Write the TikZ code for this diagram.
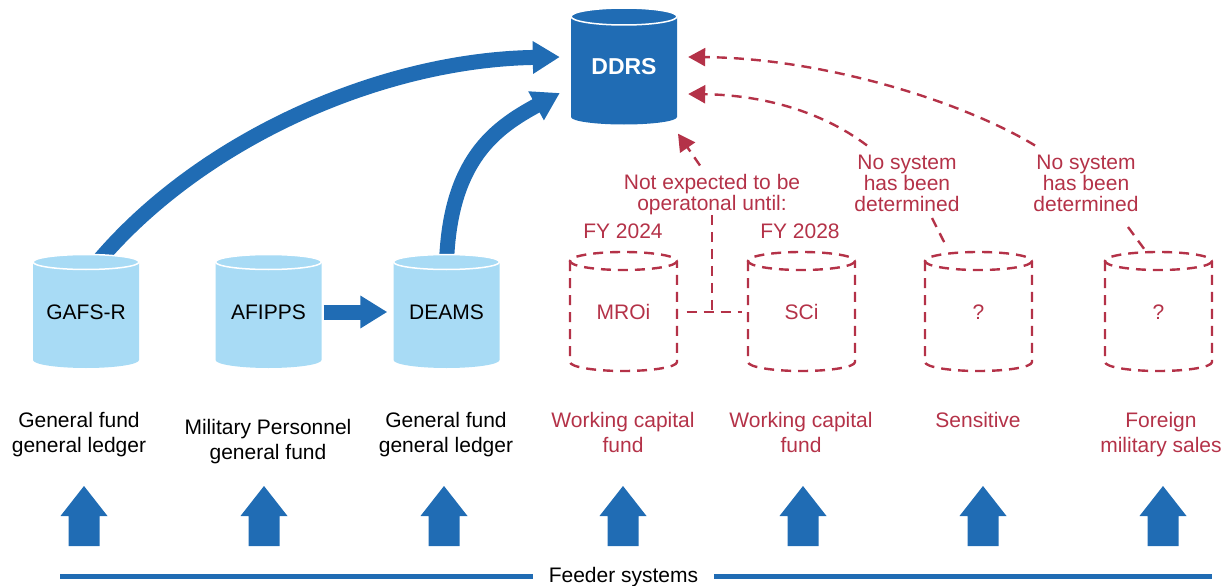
\documentclass[tikz,border=0pt]{standalone}
\usepackage{fontspec}
\setmainfont{Liberation Sans}
\usetikzlibrary{arrows.meta,calc}
\definecolor{blueD}{RGB}{32,108,180}
\definecolor{blueL}{RGB}{168,219,245}
\definecolor{redc}{RGB}{180,50,72}
\pgfdeclarelayer{arr}
\pgfdeclarelayer{cyl}
\pgfsetlayers{arr,cyl,main}
\newcommand\lightcyl[1]{%
  \fill[blueL] (#1-53,262) -- (#1-53,360) arc[start angle=180,end angle=0,x radius=53,y radius=8] -- (#1+53,262) -- cycle;
  \filldraw[fill=blueL, draw=white, line width=1.5pt] (#1,262) ellipse[x radius=53, y radius=7.5];
}
\newcommand\dashcyl[1]{%
  \draw[reddash] (#1,261) ellipse[x radius=53.5, y radius=9];
  \draw[reddash] (#1-53.5,261) -- (#1-53.5,362) arc[start angle=180,end angle=0,x radius=53.5,y radius=9] -- (#1+53.5,261);
}
\begin{document}
\begin{tikzpicture}[x=1pt,y=-1pt,
  lbl/.style={font=\fontsize{21}{25}\selectfont, align=center, inner sep=0pt},
  rlbl/.style={lbl, text=redc},
  nlbl/.style={font=\fontsize{21}{21}\selectfont, align=center, inner sep=0pt, text=redc},
  body/.style={minimum width=106pt, minimum height=98pt, inner sep=0pt, font=\fontsize{21}{25}\selectfont},
  bigarrow/.style={draw=blueD, line width=15pt, -{Triangle[length=27pt,width=31pt]}},
  reddash/.style={draw=redc, line width=2.4pt, dash pattern=on 10pt off 7pt},
  redarrow/.style={reddash, -{Triangle[length=17pt,width=18pt]}},
]
\useasboundingbox (0,0) rectangle (1227,586);

% named bodies with labels
\node[body, minimum height=101pt, text=white, font=\bfseries\fontsize{23}{23}\selectfont] (ddrs) at (624,67) {DDRS};
\node[body] (gafs) at (86,312) {GAFS-R};
\node[body] (afipps) at (268.5,312) {AFIPPS};
\node[body] (deams) at (446.5,312) {DEAMS};
\node[body, text=redc] (mroi) at (623.5,312) {MROi};
\node[body, text=redc] (sci) at (801.5,312) {SCi};
\node[body, text=redc] (q1) at (978.5,312) {?};
\node[body, text=redc] (q2) at (1158.5,312) {?};

% cylinder graphics
\begin{pgfonlayer}{cyl}
  \fill[blueD] (571,16.5) -- (571,117) arc[start angle=180,end angle=0,x radius=53,y radius=7.5] -- (677,16.5) -- cycle;
  \filldraw[fill=blueD, draw=white, line width=1.5pt] (624,16.5) ellipse[x radius=53, y radius=8.5];
  \lightcyl{86}
  \lightcyl{268.5}
  \lightcyl{446.5}
  \dashcyl{623.5}
  \dashcyl{801.5}
  \dashcyl{978.5}
  \dashcyl{1158.5}
\end{pgfonlayer}

% text labels
\node[lbl] (l1) at (79,434.5) {General fund\\general ledger};
\node[lbl] (l2) at (268,441.5) {Military Personnel\\general fund};
\node[lbl] (l3) at (446,434.5) {General fund\\general ledger};
\node[rlbl] (l4) at (623,432.5) {Working capital\\fund};
\node[rlbl] (l5) at (801,432.5) {Working capital\\fund};
\node[rlbl] (l6) at (978,420) {Sensitive};
\node[rlbl] (l7) at (1161,434.5) {Foreign\\military sales};

\node[nlbl] (nexp) at (712,194.5) {Not expected to be\\operatonal until:};
\node[nlbl] (fy1) at (623,231) {FY 2024};
\node[nlbl] (fy2) at (800,231) {FY 2028};
\node[nlbl] (ns1) at (907,183) {No system\\has been\\determined};
\node[nlbl] (ns2) at (1086,183) {No system\\has been\\determined};

% big blue connectors
\begin{pgfonlayer}{arr}
  \draw[bigarrow] ($(gafs.north)+(11,0)$) .. controls (200,140) and (380,60) .. ($(ddrs.west)+(-11,-10)$);
  \draw[bigarrow] (deams.north) .. controls (450,160) and (495,128) .. ($(ddrs.west)+(-11,26)$);
\end{pgfonlayer}
\draw[bigarrow] ($(afipps.east)+(2,0)$) -- ($(deams.west)+(-6,0)$);

% red dashed connectors
\draw[redarrow] ($(ns2.north)+(-51,-9)$) .. controls (960,100) and (820,58) .. ($(ddrs.east)+(11,-10)$);
\draw[redarrow] ($(ns1.north)+(-40,-9)$) .. controls (820,110) and (760,95) .. ($(ddrs.east)+(11,27)$);
\draw[reddash] ($(ns1.south)+(25,6.5)$) -- ($(q1.north)+(-33.5,-19)$);
\draw[reddash] ($(ns2.south)+(42,15.5)$) -- ($(q2.north)+(-11.5,-10)$);
\draw[redarrow] ($(nexp.north)+(-12,-8.5)$) -- ($(ddrs.south)+(54,16)$);
\draw[reddash] (nexp.south) -- (nexp.south |- mroi.east);
\draw[reddash, shorten <=10pt, shorten >=6pt] (mroi.east) -- (sci.west);

% feeder arrows
\foreach \x in {84,264,444,623,803,983,1163}
  \fill[blueD] (\x,486) -- (\x+23.5,516) -- (\x+15.5,516) -- (\x+15.5,546) -- (\x-15.5,546) -- (\x-15.5,516) -- (\x-23.5,516) -- cycle;

\node[font=\fontsize{21}{25}\selectfont, inner xsep=16pt, inner ysep=0pt] (feeder) at (623.5,577) {Feeder systems};
\coordinate (fl) at (60,576.5);
\coordinate (fr) at (1212,576.5);
\draw[blueD, line width=5pt] (fl) -- (fl -| feeder.west);
\draw[blueD, line width=5pt] (fr -| feeder.east) -- (fr);
\end{tikzpicture}
\end{document}
